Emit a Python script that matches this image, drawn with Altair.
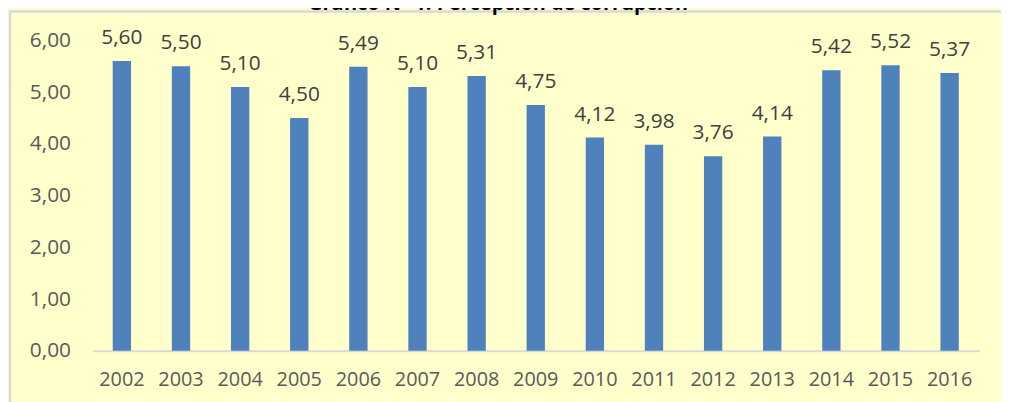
import altair as alt
import pandas as pd

YEARS = ["2002", "2003", "2004", "2005", "2006", "2007", "2008", "2009",
         "2010", "2011", "2012", "2013", "2014", "2015", "2016"]
VALUES = [5.60, 5.50, 5.10, 4.50, 5.49, 5.10, 5.31, 4.75,
          4.12, 3.98, 3.76, 4.14, 5.42, 5.52, 5.37]
Y_TICKS = [0, 1, 2, 3, 4, 5, 6]
TITLE = "Gráfico N° 1: Percepción de corrupción"

df = pd.DataFrame({"year": YEARS, "value": VALUES})
df["label"] = [f"{v:.2f}".replace(".", ",") for v in VALUES]

FONT = "Open Sans"
W, H = 894, 313

x_enc = alt.X("year:N", sort=YEARS, title=None,
              scale=alt.Scale(paddingInner=0.69, paddingOuter=0.345),
              axis=alt.Axis(labelAngle=0, labelFontSize=20, labelColor="#595959",
                            labelFont=FONT, labelPadding=19, ticks=False,
                            domainColor="#D9D9D9", domainWidth=2, grid=False))
y_enc = alt.Y("value:Q", title=None,
              scale=alt.Scale(domain=[0, 6], nice=False),
              axis=alt.Axis(values=Y_TICKS, labelFontSize=21, labelColor="#595959",
                            labelFont=FONT, labelPadding=22, ticks=False, domain=False,
                            grid=False,
                            labelExpr="replace(format(datum.value, '.2f'), '.', ',')"))

bars = alt.Chart(df).mark_bar(color="#4F81BD").encode(x=x_enc, y=y_enc)

labels = alt.Chart(df).mark_text(font=FONT, fontSize=21, color="#404040",
                                 baseline="alphabetic", dy=-17).encode(
    x=alt.X("year:N", sort=YEARS), y="value:Q", text="label:N")

border = alt.Chart(pd.DataFrame({"k": [0]})).mark_rect(
    fill=None, stroke="#D9D9D9", strokeWidth=2.5).encode(
    x=alt.value(-83), x2=alt.value(940), y=alt.value(-29), y2=alt.value(390))

title = alt.Chart(pd.DataFrame({"t": [TITLE]})).mark_text(
    font=FONT, fontSize=20, fontWeight="bold", color="#000000",
    baseline="alphabetic").encode(
    x=alt.value(409), y=alt.value(-31), text="t:N")

chart = alt.layer(border, bars, labels, title).properties(
    width=W, height=H,
    autosize=alt.AutoSizeParams(type="none"),
    padding={"left": 85, "top": 31, "right": 22, "bottom": 50},
).configure(background="#FFFFCC").configure_view(stroke=None)

chart.save("out.html", embed_options={"renderer": "svg", "actions": False})
